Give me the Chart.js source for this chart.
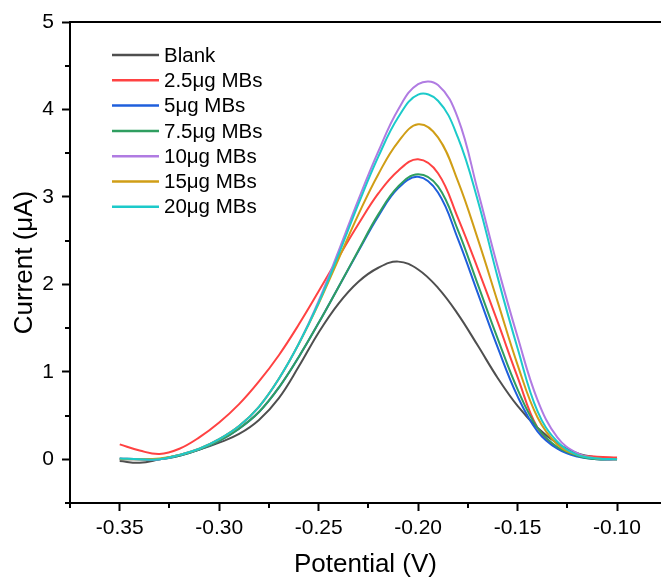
<!DOCTYPE html>
<html>
<head>
<meta charset="utf-8">
<script src="https://cdn.jsdelivr.net/npm/chart.js@4/dist/chart.umd.min.js"></script>
<style>
  html, body { margin: 0; padding: 0; background: #fff; }
  canvas { display: block; }
</style>
</head>
<body>
<canvas id="c" width="661" height="581"></canvas>
<script>
// Potential (V)
const potentials = [-0.35,-0.34,-0.33,-0.32,-0.31,-0.30,-0.29,-0.28,-0.27,-0.26,-0.25,-0.24,-0.23,-0.22,-0.21,-0.20,-0.19,-0.18,-0.17,-0.16,-0.15,-0.14,-0.13,-0.12,-0.11,-0.10];

// Current (μA)
const blank   = [-0.02,-0.04,0.00,0.05,0.11,0.19,0.29,0.45,0.70,1.06,1.45,1.78,2.03,2.19,2.26,2.17,1.96,1.66,1.30,0.93,0.61,0.36,0.18,0.07,0.02,0.00];
const mb2_5   = [0.17,0.10,0.06,0.12,0.25,0.42,0.63,0.89,1.19,1.54,1.92,2.31,2.69,3.04,3.30,3.43,3.27,2.76,2.18,1.57,0.94,0.36,0.13,0.05,0.03,0.02];
const mb5     = [0.00,0.00,0.00,0.04,0.11,0.21,0.35,0.54,0.82,1.17,1.56,1.97,2.38,2.78,3.10,3.23,3.05,2.52,1.90,1.28,0.72,0.32,0.12,0.03,0.00,0.00];
const mb7_5   = [0.01,0.00,0.00,0.04,0.11,0.21,0.35,0.54,0.82,1.17,1.56,1.97,2.39,2.80,3.12,3.26,3.12,2.62,2.00,1.38,0.80,0.36,0.14,0.04,0.00,0.00];
const mb10    = [0.01,0.00,0.00,0.05,0.12,0.23,0.38,0.60,0.92,1.32,1.81,2.38,2.97,3.52,4.00,4.29,4.28,3.90,3.07,2.20,1.40,0.68,0.25,0.07,0.01,0.00];
const mb15    = [0.00,0.00,0.01,0.05,0.12,0.23,0.38,0.60,0.92,1.32,1.78,2.29,2.80,3.26,3.63,3.83,3.68,3.18,2.52,1.80,1.08,0.48,0.17,0.05,0.01,0.00];
const mb20    = [0.01,0.00,0.00,0.05,0.12,0.23,0.38,0.60,0.92,1.32,1.79,2.34,2.92,3.46,3.91,4.17,4.10,3.68,2.96,2.08,1.27,0.55,0.20,0.05,0.01,0.00];

const seriesLabels = ['Blank','2.5μg MBs','5μg MBs','7.5μg MBs','10μg MBs','15μg MBs','20μg MBs'];
const seriesValues = [blank, mb2_5, mb5, mb7_5, mb10, mb15, mb20];
const seriesColors = ['#4f4f4f','#ff4242','#1f5fdc','#2f9e60','#b07be2','#d09e16','#1ccaca'];

const xTickLabels = ['-0.35','-0.30','-0.25','-0.20','-0.15','-0.10'];
const yTickLabels = ['0','1','2','3','4','5'];

const FONT = "'Liberation Sans', Arial, sans-serif";

const datasets = seriesValues.map((vals, i) => ({
  label: seriesLabels[i],
  data: potentials.map((p, j) => ({x: p, y: vals[j]})),
  borderColor: seriesColors[i],
  backgroundColor: seriesColors[i],
  borderWidth: 2,
  pointRadius: 0,
  tension: 0.4,
  fill: false,
  order: seriesValues.length - i
}));

const deco = {
  id: 'deco',
  afterDraw(chart) {
    const {ctx, chartArea: a, scales: {x, y}} = chart;
    ctx.save();
    // top frame line
    ctx.strokeStyle = '#000';
    ctx.lineWidth = 2;
    ctx.beginPath();
    ctx.moveTo(a.left - 1, a.top);
    ctx.lineTo(a.right, a.top);
    ctx.stroke();
    // minor ticks
    ctx.lineWidth = 2;
    ctx.beginPath();
    for (let k = -15; k <= -3; k += 2) {
      const v = k * 0.025;
      if (v < x.min - 1e-9 || v > x.max + 1e-9) continue;
      const px = Math.round(x.getPixelForValue(v));
      ctx.moveTo(px, a.bottom);
      ctx.lineTo(px, a.bottom + 5);
    }
    for (let k = -1; k <= 9; k += 2) {
      const v = k * 0.5;
      if (v < y.min - 1e-9 || v > y.max + 1e-9) continue;
      const py = Math.round(y.getPixelForValue(v));
      ctx.moveTo(a.left, py);
      ctx.lineTo(a.left - 5, py);
    }
    ctx.stroke();
    // legend
    const lx0 = 112, lx1 = 159, ty0 = 55, dy = 25.3;
    ctx.font = '20.5px ' + FONT;
    ctx.textBaseline = 'middle';
    ctx.textAlign = 'left';
    chart.data.datasets.forEach((ds, i) => {
      const yy = ty0 + i * dy;
      ctx.strokeStyle = ds.borderColor;
      ctx.lineWidth = 2.5;
      ctx.beginPath();
      ctx.moveTo(lx0, yy);
      ctx.lineTo(lx1, yy);
      ctx.stroke();
      ctx.fillStyle = '#000';
      ctx.fillText(ds.label, 164, yy + 1);
    });
    ctx.restore();
  }
};

new Chart(document.getElementById('c'), {
  type: 'line',
  data: { datasets },
  plugins: [deco],
  options: {
    responsive: false,
    animation: false,
    devicePixelRatio: 1,
    layout: { padding: { left: 0, right: 0, top: 22, bottom: 0 } },
    plugins: { legend: { display: false }, tooltip: { enabled: false } },
    scales: {
      x: {
        type: 'linear',
        min: -0.375,
        max: -0.0779,
        afterFit(s) { s.height = 78; },
        border: { display: true, color: '#000', width: 2 },
        grid: { drawOnChartArea: false, drawTicks: true, tickLength: 8, tickColor: '#000', tickWidth: 2 },
        ticks: {
          stepSize: 0.05,
          includeBounds: false,
          color: '#000',
          padding: 5,
          maxRotation: 0,
          font: { family: FONT, size: 21 },
          callback(v) {
            const s = Number(v).toFixed(2);
            return xTickLabels.includes(s) ? s : '';
          }
        },
        title: { display: true, text: 'Potential (V)', color: '#000', font: { family: FONT, size: 26 }, padding: { top: 0, bottom: 1 } }
      },
      y: {
        type: 'linear',
        min: -0.5,
        max: 5,
        afterFit(s) { s.width = 70; },
        border: { display: true, color: '#000', width: 2 },
        grid: { drawOnChartArea: false, drawTicks: true, tickLength: 8, tickColor: '#000', tickWidth: 2 },
        ticks: {
          stepSize: 1,
          includeBounds: false,
          color: '#000',
          padding: 8,
          font: { family: FONT, size: 21 },
          callback(v) {
            const s = String(Math.round(v * 100) / 100);
            return yTickLabels.includes(s) ? s : '';
          }
        },
        title: { display: true, text: 'Current (μA)', color: '#000', font: { family: FONT, size: 26 }, padding: { top: 9, bottom: 0 } }
      }
    }
  }
});
</script>
</body>
</html>
